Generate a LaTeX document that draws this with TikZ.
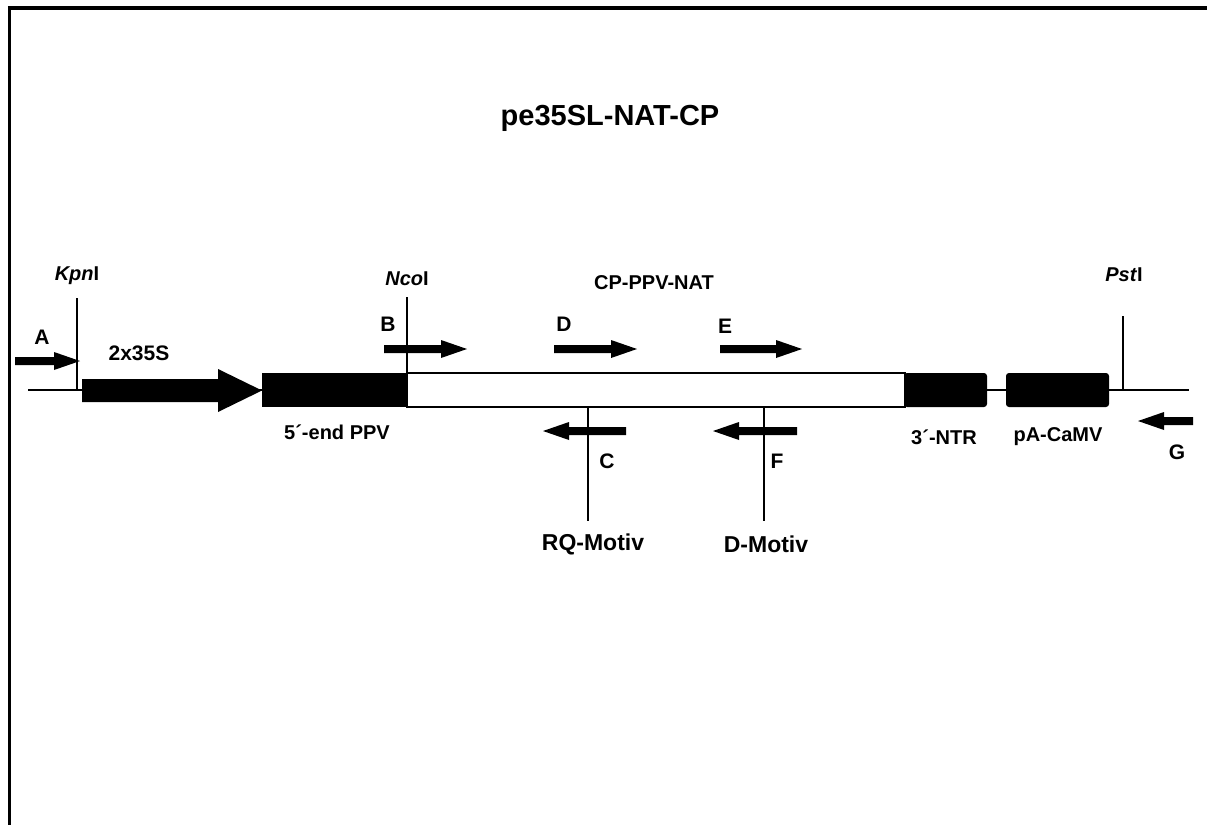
\documentclass[tikz,border=0pt]{standalone}
\usepackage{fontspec}
\setmainfont{Liberation Sans}
\newcommand\fwdarrow[3]{\fill ({#1},{#3-4}) -- ({#2-26},{#3-4}) -- ({#2-26},{#3-9}) -- ({#2},{#3}) -- ({#2-26},{#3+9}) -- ({#2-26},{#3+4}) -- ({#1},{#3+4}) -- cycle;}
\newcommand\revarrow[3]{\fill ({#1},{#3-4}) -- ({#2+26},{#3-4}) -- ({#2+26},{#3-9}) -- ({#2},{#3}) -- ({#2+26},{#3+9}) -- ({#2+26},{#3+4}) -- ({#1},{#3+4}) -- cycle;}
\begin{document}
\begin{tikzpicture}[x=1pt,y=-1pt,
  lbl/.style={font=\bfseries\fontsize{20}{22}\selectfont, inner sep=0pt},
  letter/.style={font=\bfseries\fontsize{21}{24}\selectfont, inner sep=0pt},
  motiv/.style={font=\bfseries\fontsize{23}{26}\selectfont, inner sep=0pt},
  titlefont/.style={font=\bfseries\fontsize{29}{32}\selectfont, inner sep=0pt},
  marker/.style={line width=2pt},
  blackbox/.style={fill=black},
]
\useasboundingbox (0,0) rectangle (1207,825);
% frame
\draw[line width=4pt] (7.75,8) -- (1207,8);
\draw[line width=3.5pt] (9.5,6) -- (9.5,825);
% title
\node[titlefont] (title) at (610,118) {pe35SL-NAT-CP};
% backbone
\coordinate (bbL) at (28,390);
\coordinate (bbR) at (1189,390);
\draw[line width=2.5pt] (bbL) -- (bbR);
% 2x35S promoter arrow
\fill (82,379) -- (218,379) -- (218,369) -- (262,390.5) -- (218,412) -- (218,402) -- (82,402) -- cycle;
% boxes
\fill[blackbox] (262,373) rectangle (407,407);
\draw[line width=2pt, fill=white] (407,373) rectangle (905,407);
\fill[blackbox, rounded corners=3pt] (904,373) rectangle (987,407);
\fill[blackbox, rounded corners=3pt] (1006,373) rectangle (1109,407);
% restriction sites and motif markers
\coordinate (kpnT) at (77,298); \coordinate (kpnB) at (77,390);
\coordinate (ncoT) at (407,297); \coordinate (ncoB) at (407,373);
\coordinate (pstT) at (1123,316); \coordinate (pstB) at (1123,390);
\coordinate (rqT) at (588,407); \coordinate (rqB) at (588,521);
\coordinate (dmT) at (764,407); \coordinate (dmB) at (764,521);
\draw[marker] (kpnT) -- (kpnB);
\draw[marker] (ncoT) -- (ncoB);
\draw[marker] (pstT) -- (pstB);
\draw[marker] (rqT) -- (rqB);
\draw[marker] (dmT) -- (dmB);
% primer arrows
\fwdarrow{15}{80}{361}
\fwdarrow{384}{467}{349}
\fwdarrow{554}{637}{349}
\fwdarrow{720}{802}{349}
\revarrow{626}{543}{431}
\revarrow{797}{713}{431}
\revarrow{1193}{1138}{421}
% labels
\node[lbl] (kpn) at (77,276) {\textit{Kpn}I};
\node[lbl] (nco) at (407,279) {\textit{Nco}I};
\node[lbl] (pst) at (1124,275) {\textit{Pst}I};
\node[letter] (lA) at (42,337) {A};
\node[letter] (lB) at (388,324) {B};
\node[letter] (lD) at (564,324) {D};
\node[letter] (lE) at (725,326) {E};
\node[letter] (lC) at (607,461) {C};
\node[letter] (lF) at (777,461) {F};
\node[letter] (lG) at (1177,452) {G};
\node[letter] (prom) at (139,353) {2x35S};
\node[lbl] (cpnat) at (654,283) {CP-PPV-NAT};
\node[lbl] (five) at (337,432) {5´-end PPV};
\node[lbl] (ntr) at (944,437) {3´-NTR};
\node[lbl] (pa) at (1058,437) {pA-CaMV};
\node[motiv] (rq) at (593,544) {RQ-Motiv};
\node[motiv] (dmot) at (766,544) {D-Motiv};
\end{tikzpicture}
\end{document}
